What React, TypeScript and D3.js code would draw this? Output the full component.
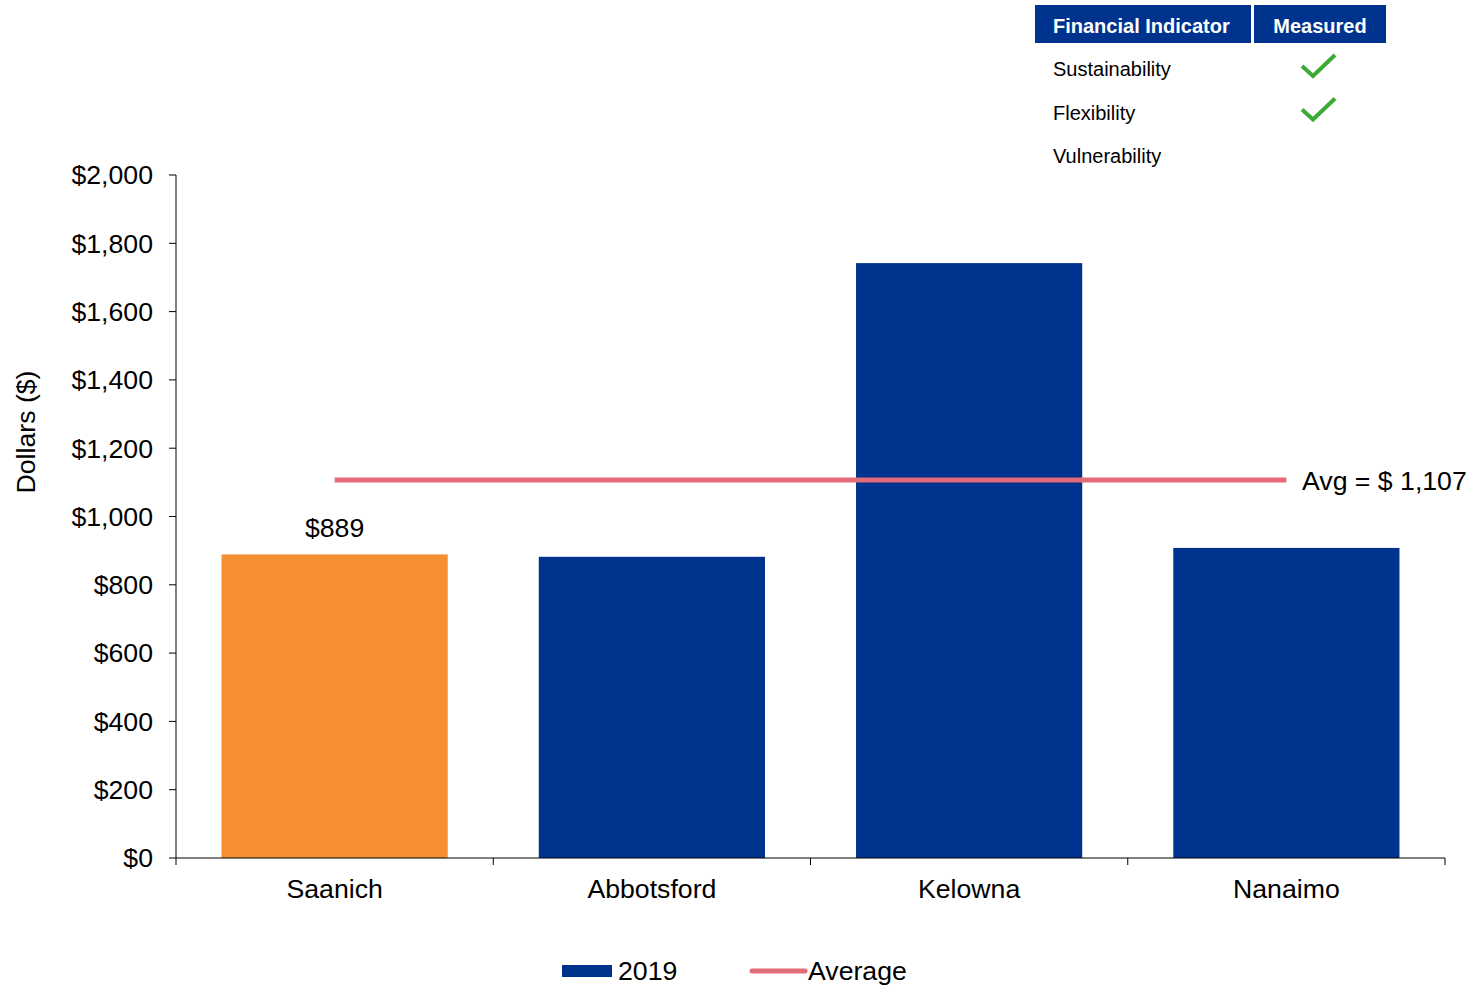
import React from "react";
import * as d3 from "d3";

const categories = ["Saanich", "Abbotsford", "Kelowna", "Nanaimo"];
const values2019 = [889, 882, 1742, 908];
const highlight = ["Saanich"];
const averageValue = 1107;
const yTicks = [0, 200, 400, 600, 800, 1000, 1200, 1400, 1600, 1800, 2000];
const indicators = ["Sustainability", "Flexibility", "Vulnerability"];
const measured = [true, true, false];

const BLUE = "#00338D";
const ORANGE = "#F58F31";
const PINK = "#E36B7A";
const GREEN = "#3DAA35";
const FONT = "'Liberation Sans', Arial, sans-serif";
const FS = 26.67;

export default function App() {
  const W = 1477, H = 985;
  const left = 176, right = 1445, top = 175, bottom = 858;
  const x = d3.scaleBand<string>().domain(categories).range([left, right]).paddingInner(0.287).paddingOuter(0.1435);
  const y = d3.scaleLinear().domain([0, 2000]).range([bottom, top]);
  const fmt = (v: number) => "$" + d3.format(",")(v);
  const step = (right - left) / categories.length;
  const avgX1 = x(categories[0])! + x.bandwidth() / 2;
  const avgX2 = x(categories[categories.length - 1])! + x.bandwidth() / 2;

  return (
    <svg width={W} height={H} style={{ position: "absolute", left: 0, top: 0, fontFamily: FONT }}>
      <rect width={W} height={H} fill="#fff" />
      {categories.map((c, i) => (
        <rect key={c} x={x(c)} y={y(values2019[i])} width={x.bandwidth()} height={bottom - y(values2019[i])}
          fill={highlight.includes(c) ? ORANGE : BLUE} />
      ))}
      {categories.map((c, i) => highlight.includes(c) ? (
        <text key={c} x={x(c)! + x.bandwidth() / 2} y={y(values2019[i]) - 17} textAnchor="middle" fontSize={FS} fill="#000">{fmt(values2019[i])}</text>
      ) : null)}
      <line x1={left} x2={left} y1={top} y2={bottom} stroke="#000" strokeWidth={1} />
      {yTicks.map(t => (
        <g key={t}>
          <line x1={left - 7} x2={left} y1={y(t)} y2={y(t)} stroke="#000" />
          <text x={153} y={y(t)} dy="0.35em" textAnchor="end" fontSize={FS} fill="#000">{fmt(t)}</text>
        </g>
      ))}
      <line x1={left} x2={right} y1={bottom} y2={bottom} stroke="#000" />
      {d3.range(categories.length + 1).map(i => (
        <line key={i} x1={left + i * step} x2={left + i * step} y1={bottom} y2={bottom + 7} stroke="#000" />
      ))}
      {categories.map(c => (
        <text key={c} x={x(c)! + x.bandwidth() / 2} y={898} textAnchor="middle" fontSize={FS} fill="#000">{c}</text>
      ))}
      <text transform={`translate(35,432) rotate(-90)`} textAnchor="middle" fontSize={FS} fill="#000">Dollars ($)</text>
      <line x1={avgX1} x2={avgX2} y1={y(averageValue)} y2={y(averageValue)} stroke={PINK} strokeWidth={5} />
      <text x={1302} y={y(averageValue) + 10} fontSize={FS} fill="#000">{"Avg = $ " + d3.format(",")(averageValue)}</text>
      <rect x={562} y={965} width={50} height={12} fill={BLUE} />
      <text x={618} y={980} fontSize={FS} fill="#000">2019</text>
      <line x1={752} x2={805} y1={971} y2={971} stroke={PINK} strokeWidth={5} strokeLinecap="round" />
      <text x={808} y={980} fontSize={FS} fill="#000">Average</text>
      <rect x={1035} y={5} width={216} height={38} fill={BLUE} />
      <rect x={1254} y={5} width={132} height={38} fill={BLUE} />
      <text x={1053} y={33} fontSize={20} fontWeight="bold" fill="#fff">Financial Indicator</text>
      <text x={1320} y={33} fontSize={20} fontWeight="bold" fill="#fff" textAnchor="middle">Measured</text>
      {indicators.map((ind, i) => (
        <g key={ind}>
          <text x={1053} y={76 + i * 43.5} fontSize={20} fill="#000">{ind}</text>
          {measured[i] ? (
            <path d={`M1302,${66 + i * 43.5} L1313,${76 + i * 43.5} L1335,${55 + i * 43.5}`} fill="none" stroke={GREEN} strokeWidth={4} />
          ) : null}
        </g>
      ))}
    </svg>
  );
}
